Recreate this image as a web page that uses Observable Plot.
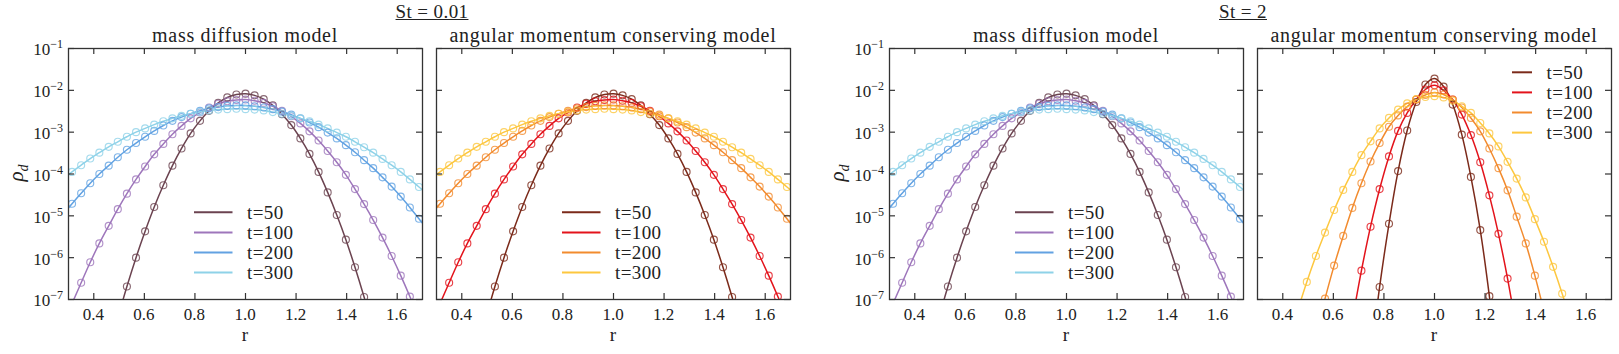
<!DOCTYPE html>
<html><head><meta charset="utf-8">
<script src="https://cdn.jsdelivr.net/npm/d3@7"></script>
<script src="https://cdn.jsdelivr.net/npm/@observablehq/plot@0.6"></script>
<style>
body{margin:0;background:#fff;font-family:"Liberation Serif"}
#root{position:relative;width:1619px;height:354px;font-family:"Liberation Serif";color:#222}
.sup{position:absolute;top:2px;font-size:19px;line-height:19px;text-decoration:underline;transform:translateX(-50%);white-space:nowrap;letter-spacing:.4px;font-family:"Liberation Serif"}
.lbl{position:absolute;white-space:nowrap;font-family:"Liberation Serif";color:#222}
.ex{position:relative;top:-7px;font-size:12px;line-height:12px}
.sub{position:relative;top:5px;font-size:14px;line-height:14px}
</style></head><body><div id="root"></div>
<script>
// radial positions of the plotted samples
const rGrid = [0.278,0.314,0.350,0.386,0.422,0.459,0.495,0.531,0.567,0.603,
 0.639,0.675,0.711,0.747,0.783,0.820,0.856,0.892,0.928,0.964,
 1.000,1.036,1.072,1.108,1.144,1.181,1.217,1.253,1.289,1.325,
 1.361,1.397,1.433,1.469,1.505,1.542,1.578,1.614,1.650,1.686,
 1.722];
const times = ["t=50","t=100","t=200","t=300"];
const xTicks = [0.4,0.6,0.8,1.0,1.2,1.4,1.6];
const yTicks = [1e-7,1e-6,1e-5,1e-4,1e-3,1e-2,1e-1];
const yTickExp = ["\u22127","\u22126","\u22125","\u22124","\u22123","\u22122","\u22121"];
const coolColors = ["#6b4350","#9e76bb","#62a2e2","#8ed2e8"];
const warmColors = ["#7b2a1a","#e3131b","#f28b2e","#fdc73f"];

// log10(rho_d), one value per rGrid entry (null = not shown)
const diff_t50 = [null,null,null,null,null,null,-7.44,-6.69,-6.00,-5.37,
 -4.79,-4.27,-3.80,-3.39,-3.03,-2.73,-2.49,-2.30,-2.17,-2.10,
 -2.08,-2.12,-2.21,-2.36,-2.57,-2.83,-3.15,-3.52,-3.95,-4.44,
 -4.98,-5.57,-6.23,-6.94,-7.70,null,null,null,null,null,
 null];
const diff_t100 = [-7.64,-7.10,-6.60,-6.11,-5.66,-5.24,-4.84,-4.47,-4.13,-3.82,
 -3.53,-3.28,-3.05,-2.85,-2.67,-2.53,-2.41,-2.32,-2.26,-2.23,
 -2.22,-2.25,-2.30,-2.38,-2.49,-2.62,-2.79,-2.98,-3.20,-3.45,
 -3.72,-4.02,-4.36,-4.72,-5.10,-5.52,-5.96,-6.43,-6.93,-7.46,
 -8.02];
const diff_t200 = [-4.97,-4.71,-4.46,-4.22,-4.00,-3.80,-3.60,-3.42,-3.26,-3.11,
 -2.97,-2.84,-2.73,-2.64,-2.56,-2.49,-2.43,-2.40,-2.37,-2.36,
 -2.36,-2.38,-2.41,-2.45,-2.51,-2.58,-2.67,-2.77,-2.88,-3.01,
 -3.15,-3.31,-3.48,-3.67,-3.86,-4.08,-4.30,-4.54,-4.80,-5.07,
 -5.35];
const diff_t300 = [-4.12,-3.95,-3.79,-3.63,-3.49,-3.35,-3.23,-3.11,-3.00,-2.91,
 -2.82,-2.74,-2.67,-2.61,-2.56,-2.52,-2.48,-2.46,-2.45,-2.44,
 -2.45,-2.46,-2.48,-2.52,-2.56,-2.61,-2.67,-2.74,-2.82,-2.91,
 -3.01,-3.11,-3.23,-3.36,-3.49,-3.64,-3.79,-3.95,-4.13,-4.31,
 -4.50];
// St = 0.01 angular momentum model: indistinguishable from the diffusion curves in the picture
const amcLow_t50 = diff_t50, amcLow_t100 = diff_t100, amcLow_t200 = diff_t200, amcLow_t300 = diff_t300;
// St = 2 angular momentum model
const amcHigh_t50 = [null,null,null,null,null,null,null,null,null,null,
 null,null,null,-8.45,-6.70,-5.19,-3.93,-2.96,-2.28,-1.86,
 -1.72,-1.91,-2.34,-3.06,-4.07,-5.34,-6.92,-8.80,null,null,
 null,null,null,null,null,null,null,null,null,null,
 null];
const amcHigh_t100 = [null,null,null,null,null,null,null,null,null,null,
 null,-7.50,-6.31,-5.26,-4.36,-3.58,-2.97,-2.54,-2.22,-1.98,
 -1.88,-2.00,-2.22,-2.58,-3.07,-3.72,-4.51,-5.43,-6.50,-7.75,
 null,null,null,null,null,null,null,null,null,null,
 null];
const amcHigh_t200 = [null,null,null,null,null,null,null,-7.83,-6.98,-6.19,
 -5.48,-4.81,-4.22,-3.70,-3.26,-2.87,-2.60,-2.39,-2.22,-2.11,
 -2.05,-2.10,-2.22,-2.41,-2.66,-2.98,-3.39,-3.86,-4.39,-5.02,
 -5.66,-6.43,-7.28,null,null,null,null,null,null,null,
 null];
const amcHigh_t300 = [null,null,null,null,null,-7.26,-6.58,-5.96,-5.40,-4.86,
 -4.38,-3.95,-3.55,-3.22,-2.91,-2.66,-2.46,-2.31,-2.21,-2.16,
 -2.14,-2.17,-2.25,-2.38,-2.54,-2.78,-3.03,-3.34,-3.71,-4.11,
 -4.56,-5.08,-5.62,-6.22,-6.86,-7.56,null,null,null,null,
 null];

const H = 354, MT = 48, MB = 55;
const ASC = 0.8375; // baseline offset within a 1em line box (Liberation Serif)

function makePanel({series, colors, left, width, ml, mr, title, showY, legend}) {
  const FW = width - ml - mr, FH = H - MT - MB;
  const rows = [];
  series.forEach((vals, i) => vals.forEach((v, j) => {
    if (v !== null) rows.push({t: times[i], r: rGrid[j], rho: Math.pow(10, v), color: colors[i]});
  }));
  const tk = {stroke: "#333", strokeWidth: 1.2};
  const svg = Plot.plot({
    width, height: H, marginTop: MT, marginBottom: MB, marginLeft: ml, marginRight: mr,
    x: {domain: [0.3, 1.7], axis: null},
    y: {type: "log", domain: [1e-7, 1e-1], axis: null},
    color: {type: "identity"},
    marks: [
      Plot.line(rows, {x: "r", y: "rho", z: "t", stroke: "color", strokeWidth: 1.5, curve: "catmull-rom", clip: true}),
      Plot.dot(rows, {x: "r", y: "rho", stroke: "color", r: 3.5, strokeWidth: 1.15, strokeOpacity: 0.8, fill: "none", clip: true}),
      Plot.frame({stroke: "#333", strokeWidth: 1.3}),
      Plot.tickX(xTicks, {x: d => d, insetBottom: FH - 6, ...tk}),
      Plot.tickX(xTicks, {x: d => d, insetTop: FH - 6, ...tk}),
      Plot.tickY(yTicks, {y: d => d, insetRight: FW - 6, ...tk}),
      Plot.tickY(yTicks, {y: d => d, insetLeft: FW - 6, ...tk})
    ]
  });
  const wrap = document.createElement("div");
  wrap.style.cssText = `position:absolute;left:${left}px;top:0;width:${width}px;height:${H}px`;
  svg.style.position = "absolute";
  svg.style.left = "0px";
  svg.style.top = "0px";
  svg.style.overflow = "visible";
  svg.style.background = "transparent";
  wrap.appendChild(svg);

  const sx = svg.scale && svg.scale("x"), sy = svg.scale && svg.scale("y");
  const fx = sx && sx.apply ? sx.apply : d3.scaleLinear([0.3, 1.7], [ml, ml + FW]);
  const fy = sy && sy.apply ? sy.apply : d3.scaleLog([1e-7, 1e-1], [MT + FH, MT]);

  const addText = (html, x, baseline, F, extra) => {
    const d = document.createElement("div");
    d.className = "lbl";
    d.style.left = x + "px";
    d.style.top = (baseline - ASC * F) + "px";
    d.style.fontSize = F + "px";
    d.style.lineHeight = F + "px";
    if (extra) Object.assign(d.style, extra);
    d.innerHTML = html;
    wrap.appendChild(d);
    return d;
  };
  addText(title, ml + FW / 2, 41.7, 20, {transform: "translateX(-50%)", letterSpacing: "0.7px"});
  xTicks.forEach(v => addText(d3.format(".1f")(v), fx(v), 320.7, 17, {transform: "translateX(-50%)"}));
  addText("r", ml + FW / 2, 341, 19, {transform: "translateX(-50%)"});
  if (showY) {
    yTicks.forEach((v, i) => addText(`10<span class="ex">${yTickExp[i]}</span>`, ml - 5, fy(v) + 7.6, 17,
      {transform: "translateX(-100%)"}));
    const yl = document.createElement("div");
    yl.className = "lbl";
    yl.style.cssText += `left:${ml - 52}px;top:173px;font-size:21px;line-height:21px;font-style:italic;transform:translate(-50%,-50%) rotate(-90deg)`;
    yl.innerHTML = `\u03C1<span class="sub">d</span>`;
    wrap.appendChild(yl);
  }
  const g = d3.select(svg).append("g");
  times.forEach((t, i) => {
    const y = legend.y0 + i * legend.dy;
    g.append("line").attr("x1", ml + legend.x1).attr("x2", ml + legend.x2).attr("y1", y).attr("y2", y)
      .attr("stroke", colors[i]).attr("stroke-width", 2);
    addText(t, ml + legend.tx, y + 6.5, 19, {letterSpacing: "0.4px"});
  });
  return wrap;
}

const root = document.getElementById("root");
const legLow = {x1: 126, x2: 164.5, tx: 179, y0: 212.3, dy: 20.1};
const legTop = {x1: 255, x2: 275, tx: 289.5, y0: 72.3, dy: 20.1};
const sup = [["St = 0.01", 432], ["St = 2", 1243]];

sup.forEach(([txt, x]) => {
  const d = document.createElement("div");
  d.className = "sup"; d.style.left = x + "px"; d.textContent = txt;
  root.appendChild(d);
});
root.appendChild(makePanel({series: [diff_t50, diff_t100, diff_t200, diff_t300], colors: coolColors,
  left: 0, width: 429, ml: 68, mr: 7, title: "mass diffusion model", showY: true, legend: legLow}));
root.appendChild(makePanel({series: [amcLow_t50, amcLow_t100, amcLow_t200, amcLow_t300], colors: warmColors,
  left: 429, width: 371, ml: 7, mr: 10, title: "angular momentum conserving model", showY: false, legend: legLow}));
root.appendChild(makePanel({series: [diff_t50, diff_t100, diff_t200, diff_t300], colors: coolColors,
  left: 800, width: 450, ml: 89, mr: 7, title: "mass diffusion model", showY: true, legend: legLow}));
root.appendChild(makePanel({series: [amcHigh_t50, amcHigh_t100, amcHigh_t200, amcHigh_t300], colors: warmColors,
  left: 1250, width: 369, ml: 7, mr: 8, title: "angular momentum conserving model", showY: false, legend: legTop}));
</script></body></html>
